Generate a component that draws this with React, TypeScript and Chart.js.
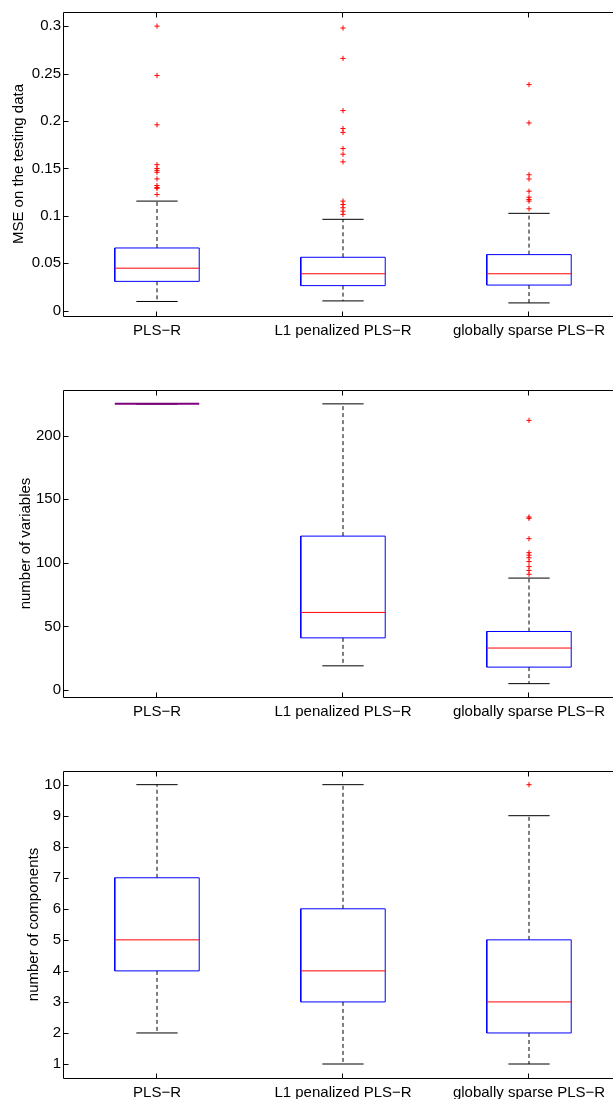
import React, { useEffect, useRef } from 'react';
import { Chart, registerables } from 'chart.js';

Chart.register(...registerables);

const categories = ['PLS−R', 'L1 penalized PLS−R', 'globally sparse PLS−R'];
const categoryPositions = [1, 2, 3];

// Panel 1: MSE on the testing data
const mseLower = [0.0098, 0.0104, 0.0083];
const mseQ1 = [0.031, 0.0265, 0.0271];
const mseMedian = [0.0449, 0.039, 0.039];
const mseQ3 = [0.0662, 0.0564, 0.0592];
const mseUpper = [0.1156, 0.0964, 0.1027];
const mseOutliersPLS = [0.300, 0.248, 0.196, 0.154, 0.150, 0.148, 0.146, 0.139, 0.132, 0.130, 0.129, 0.1225];
const mseOutliersL1 = [0.298, 0.266, 0.211, 0.192, 0.188, 0.171, 0.165, 0.157, 0.1156, 0.112, 0.1086, 0.105, 0.1016];
const mseOutliersGS = [0.2384, 0.198, 0.1434, 0.1389, 0.126, 0.1197, 0.1173, 0.1156, 0.1075];
const mseTicks = [0, 0.05, 0.1, 0.15, 0.2, 0.25, 0.3];
const mseTickLabels = ['0', '0.05', '0.1', '0.15', '0.2', '0.25', '0.3'];

// Panel 2: number of variables
const varLower = [225, 19, 5];
const varQ1 = [225, 41, 18];
const varMedian = [225, 61, 33];
const varQ3 = [225, 121, 46];
const varUpper = [225, 225, 88];
const varOutliersPLS: number[] = [];
const varOutliersL1: number[] = [];
const varOutliersGS = [212, 136, 135, 119, 108, 106, 104, 101, 97, 94, 91];
const varTicks = [0, 50, 100, 150, 200];
const varTickLabels = ['0', '50', '100', '150', '200'];

// Panel 3: number of components
const compLower = [2, 1, 1];
const compQ1 = [4, 3, 2];
const compMedian = [5, 4, 3];
const compQ3 = [7, 6, 5];
const compUpper = [10, 10, 9];
const compOutliersPLS: number[] = [];
const compOutliersL1: number[] = [];
const compOutliersGS = [10];
const compTicks = [1, 2, 3, 4, 5, 6, 7, 8, 9, 10];
const compTickLabels = ['1', '2', '3', '4', '5', '6', '7', '8', '9', '10'];

const FONT = '"Liberation Sans", Arial, Helvetica, sans-serif';

type Stats = {
  lower: number[]; q1: number[]; median: number[]; q3: number[]; upper: number[]; outliers: number[][];
};

function segment(x0: number, y0: number, x1: number, y1: number, color: string, width: number, dash: number[], order: number) {
  return {
    data: [{ x: x0, y: y0 }, { x: x1, y: y1 }],
    showLine: true,
    borderColor: color,
    backgroundColor: color,
    borderWidth: width,
    borderDash: dash,
    pointRadius: 0,
    pointHoverRadius: 0,
    fill: false,
    tension: 0,
    order,
  };
}

function buildDatasets(s: Stats) {
  const ds: any[] = [];
  const BOX = 0.227;
  const CAP = 0.111;
  s.median.forEach((m, i) => {
    const x = categoryPositions[i];
    ds.push(segment(x, s.q3[i], x, s.upper[i], '#000000', 1, [4, 3], 4));
    ds.push(segment(x, s.q1[i], x, s.lower[i], '#000000', 1, [4, 3], 4));
    ds.push(segment(x - CAP, s.upper[i], x + CAP, s.upper[i], '#000000', 1, [], 3));
    ds.push(segment(x - CAP, s.lower[i], x + CAP, s.lower[i], '#000000', 1, [], 3));
    if (s.q1[i] === s.q3[i]) {
      // collapsed box: blue box edge and red median coincide (renders purple)
      ds.push(segment(x - BOX, m, x + BOX, m, '#800080', 2, [], 1));
    } else {
      ds.push({
        data: [
          { x: x - BOX, y: s.q1[i] }, { x: x + BOX, y: s.q1[i] },
          { x: x + BOX, y: s.q3[i] }, { x: x - BOX, y: s.q3[i] },
          { x: x - BOX, y: s.q1[i] },
        ],
        showLine: true, borderColor: '#0000ff', backgroundColor: '#0000ff', borderWidth: 1,
        pointRadius: 0, pointHoverRadius: 0, fill: false, tension: 0, order: 2,
      });
      ds.push(segment(x - BOX, m, x + BOX, m, '#ff0000', 1, [], 1));
    }
    if (s.outliers[i].length) {
      ds.push({
        data: s.outliers[i].map((v) => ({ x, y: v })),
        showLine: false, pointStyle: 'cross', pointRadius: 2.6, pointHoverRadius: 2.6,
        borderColor: '#ff0000', backgroundColor: '#ff0000', borderWidth: 1, order: 0,
      });
    }
  });
  return ds;
}

const framePlugin = {
  id: 'matlabFrame',
  afterDatasetsDraw(chart: any) {
    const { ctx, chartArea: a, scales } = chart;
    const L = Math.round(a.left) - 0.5;
    const R = Math.round(a.right) - 0.5;
    const T = Math.floor(a.top) + 0.5;
    const B = Math.floor(a.bottom) + 0.5;
    ctx.save();
    ctx.strokeStyle = '#000000';
    ctx.lineWidth = 1;
    ctx.setLineDash([]);
    ctx.beginPath();
    ctx.moveTo(L, T); ctx.lineTo(R, T); ctx.lineTo(R, B); ctx.lineTo(L, B); ctx.closePath();
    const TL = 5;
    scales.y.ticks.forEach((t: any) => {
      const py = Math.round(scales.y.getPixelForValue(t.value)) + 0.5;
      ctx.moveTo(L, py); ctx.lineTo(L + TL, py);
      ctx.moveTo(R, py); ctx.lineTo(R - TL, py);
    });
    scales.x.ticks.forEach((t: any) => {
      const px = Math.round(scales.x.getPixelForValue(t.value)) - 0.5;
      ctx.moveTo(px, B); ctx.lineTo(px, B - TL);
      ctx.moveTo(px, T); ctx.lineTo(px, T + TL);
    });
    ctx.stroke();
    ctx.restore();
  },
};

type Panel = {
  top: number; height: number; padTop: number; padLeft: number; xHeight: number;
  yMin: number; yMax: number; ticks: number[]; labels: string[]; title: string; stats: Stats;
};

const panels: Panel[] = [
  {
    top: 0, height: 350, padTop: 9, padLeft: 11.5, xHeight: 34,
    yMin: -0.0055, yMax: 0.3149, ticks: mseTicks, labels: mseTickLabels,
    title: 'MSE on the testing data',
    stats: { lower: mseLower, q1: mseQ1, median: mseMedian, q3: mseQ3, upper: mseUpper,
      outliers: [mseOutliersPLS, mseOutliersL1, mseOutliersGS] },
  },
  {
    top: 360, height: 370, padTop: 30, padLeft: 18.5, xHeight: 33,
    yMin: -5.5, yMax: 235.9, ticks: varTicks, labels: varTickLabels,
    title: 'number of variables',
    stats: { lower: varLower, q1: varQ1, median: varMedian, q3: varQ3, upper: varUpper,
      outliers: [varOutliersPLS, varOutliersL1, varOutliersGS] },
  },
  {
    top: 740, height: 359, padTop: 31, padLeft: 26.5, xHeight: 21,
    yMin: 0.549, yMax: 10.44, ticks: compTicks, labels: compTickLabels,
    title: 'number of components',
    stats: { lower: compLower, q1: compQ1, median: compMedian, q3: compQ3, upper: compUpper,
      outliers: [compOutliersPLS, compOutliersL1, compOutliersGS] },
  },
];

const CANVAS_W = 630;
const AREA_LEFT = 64;
const PAD_RIGHT = 8;

function BoxPanel({ p }: { p: Panel }) {
  const ref = useRef<HTMLCanvasElement | null>(null);
  useEffect(() => {
    if (!ref.current) return;
    const chart = new Chart(ref.current, {
      type: 'scatter',
      data: { datasets: buildDatasets(p.stats) },
      plugins: [framePlugin],
      options: {
        animation: false,
        responsive: false,
        devicePixelRatio: 1,
        events: [],
        layout: { padding: { left: p.padLeft, top: p.padTop, right: PAD_RIGHT, bottom: 0 } },
        plugins: { legend: { display: false }, tooltip: { enabled: false } },
        scales: {
          x: {
            type: 'linear', min: 0.5, max: 3.5,
            grid: { display: false, drawTicks: false },
            border: { display: false },
            afterBuildTicks: (s: any) => { s.ticks = categoryPositions.map((v) => ({ value: v })); },
            afterFit: (s: any) => { s.height = p.xHeight; },
            ticks: {
              autoSkip: false, maxRotation: 0, minRotation: 0, padding: 6, color: '#000000',
              font: { family: FONT, size: 15 },
              callback: (v: any) => categories[categoryPositions.indexOf(Number(v))],
            },
          },
          y: {
            type: 'linear', min: p.yMin, max: p.yMax,
            grid: { display: false, drawTicks: false },
            border: { display: false },
            afterBuildTicks: (s: any) => { s.ticks = p.ticks.map((v) => ({ value: v })); },
            afterFit: (s: any) => { s.width = AREA_LEFT - p.padLeft; },
            ticks: {
              autoSkip: false, padding: 3, color: '#000000',
              font: { family: FONT, size: 15 },
              callback: (v: any) => p.labels[p.ticks.indexOf(Number(v))],
            },
            title: {
              display: true, text: p.title, color: '#000000', padding: 0,
              font: { family: FONT, size: 15, lineHeight: 1 },
            },
          },
        },
      } as any,
    });
    return () => chart.destroy();
  }, [p]);
  return (
    <div style={{ position: 'absolute', left: 0, top: p.top, width: CANVAS_W, height: p.height }}>
      <canvas ref={ref} width={CANVAS_W} height={p.height} style={{ display: 'block' }} />
    </div>
  );
}

export default function App() {
  useEffect(() => {
    document.body.style.margin = '0';
    document.body.style.background = '#ffffff';
  }, []);
  return (
    <div style={{ position: 'relative', width: 613, height: 1099, overflow: 'hidden', background: '#ffffff' }}>
      {panels.map((p, i) => <BoxPanel key={i} p={p} />)}
    </div>
  );
}
